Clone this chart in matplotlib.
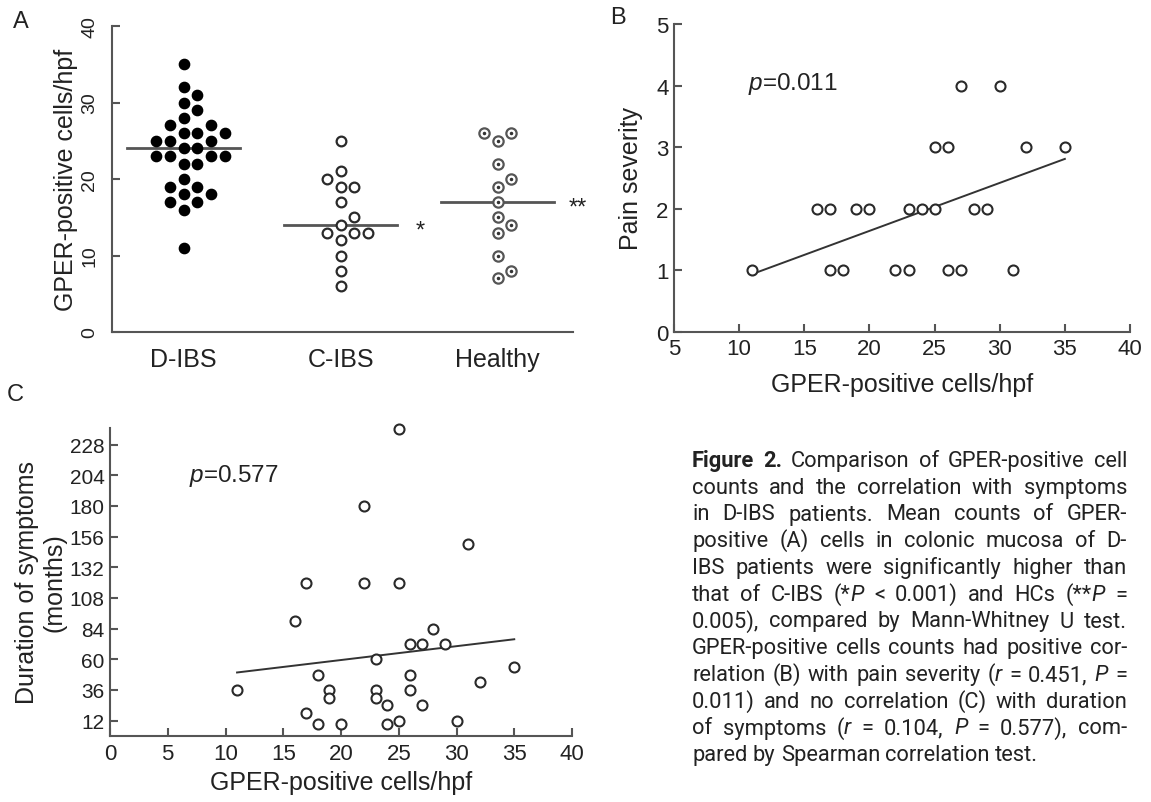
import matplotlib
matplotlib.use("Agg")
import matplotlib.pyplot as plt
import numpy as np

plt.rcParams["font.family"] = ["Liberation Sans", "DejaVu Sans"]
plt.rcParams["mathtext.fontset"] = "custom"
plt.rcParams["mathtext.rm"] = "Liberation Sans"
plt.rcParams["mathtext.it"] = "Liberation Sans:italic"

AXIS = "#555555"
INK = "#222222"
CAP_FONT = ["Roboto", "DejaVu Sans"]

# ---- panel A: GPER-positive cells/hpf per group
groups = ["D-IBS", "C-IBS", "Healthy"]
d_ibs = [35, 32, 31, 30, 29, 28, 27, 27, 26, 26, 26, 25, 25, 25, 24, 24,
         23, 23, 23, 23, 22, 22, 20, 19, 19, 18, 18, 17, 17, 16, 11]
c_ibs = [25, 21, 20, 19, 19, 17, 15, 14, 13, 13, 13, 12, 10, 8, 6]
healthy = [26, 26, 25, 22, 20, 19, 17, 15, 14, 13, 10, 8, 7]
stars = ["", "*", "**"]

# ---- panel B: pain severity vs cells
b_cells = [11, 16, 17, 19, 20, 23, 24, 25, 28, 29,
           17, 18, 22, 23, 26, 27, 31,
           25, 26, 32, 35,
           27, 30]
b_pain = [1, 2, 2, 2, 2, 2, 2, 2, 2, 2,
          1, 1, 1, 1, 1, 1, 1,
          3, 3, 3, 3,
          4, 4]
b_fit_x = [11, 35]
b_fit_y = [0.94, 2.81]

# ---- panel C: duration of symptoms vs cells
c_cells = [25, 22, 31, 17, 22, 25, 16, 28, 26, 27, 29, 23, 35, 18, 26, 32,
           11, 19, 19, 23, 23, 26, 24, 27, 17, 18, 20, 24, 25, 30]
c_months = [240, 180, 150, 120, 120, 120, 90, 84, 72, 72, 72, 60, 54, 48, 48, 42,
            36, 36, 30, 36, 30, 36, 24, 24, 18, 9, 9, 9, 12, 12]
c_fit_x = [11, 35]
c_fit_y = [49.7, 75.7]

caption = [
    "#Figure #2. Comparison of GPER-positive cell",
    "counts and the correlation with symptoms",
    "in D-IBS patients. Mean counts of GPER-",
    "positive (A) cells in colonic mucosa of D-",
    "IBS patients were significantly higher than",
    "that of C-IBS (*|P| < 0.001) and HCs (**|P| =",
    "0.005), compared by Mann-Whitney U test.",
    "GPER-positive cells counts had positive cor-",
    "relation (B) with pain severity (|r| = 0.451, |P| =",
    "0.011) and no correlation (C) with duration",
    "of symptoms (|r| = 0.104, |P| = 0.577), com-",
    "pared by Spearman correlation test.",
]


def style_axes(ax):
    for s in ("top", "right"):
        ax.spines[s].set_visible(False)
    for s in ("left", "bottom"):
        ax.spines[s].set_color(AXIS)
        ax.spines[s].set_linewidth(1.5)
    ax.tick_params(colors=AXIS, labelcolor=INK, width=1.5)


def swarm_offsets(ax, values, center, step, diam_px=10):
    """First free slot 0, +1, -1, +2, ... going up through the sorted values."""
    placed = []
    offs = np.zeros(len(values))
    for i in np.argsort(values, kind="stable"):
        for k in [0, 1, -1, 2, -2, 3, -3, 4, -4]:
            px = ax.transData.transform((center + k * step, values[i]))
            if all(np.hypot(*(px - q)) >= diam_px for q in placed):
                break
        placed.append(px)
        offs[i] = k * step
    return offs


def parse_line(line):
    words = []
    for w in line.split(" "):
        bold = w.startswith("#")
        parts = w.lstrip("#").split("|")
        words.append([(s, {"weight": "bold" if bold else "normal",
                           "style": "italic" if k % 2 else "normal"})
                      for k, s in enumerate(parts) if s])
    return words


def draw_caption(fig, lines, left, right, top, step, base=14):
    rend = fig.canvas.get_renderer()
    W, H = fig.bbox.width, fig.bbox.height

    def width(s, props, size):
        t = fig.text(0, 0, s, fontsize=size, family=CAP_FONT, **props)
        w = t.get_window_extent(rend).width
        t.remove()
        return w

    parsed = [parse_line(l) for l in lines]
    # pick the size at which the tightest line just fits with plain spaces
    sp = width("a a", {}, base) - width("aa", {}, base)
    natural = [sum(width(s, p, base) for wd in words for s, p in wd)
               + sp * (len(words) - 1) for words in parsed[:-1]]
    size = base * (right - left) / max(natural) * 0.985

    space = width("a a", {}, size) - width("aa", {}, size)
    for i, words in enumerate(parsed):
        measured = [[(s, p, width(s, p, size)) for s, p in wd] for wd in words]
        total = sum(ws for wd in measured for _, _, ws in wd)
        last = i == len(parsed) - 1
        gap = space if last else (right - left - total) / (len(words) - 1)
        x = left
        y = 1 - (top + i * step) / H
        for wd in measured:
            for s, p, ws in wd:
                fig.text(x / W, y, s, fontsize=size, family=CAP_FONT,
                         color=INK, va="baseline", **p)
                x += ws
            x += gap


fig = plt.figure(figsize=(11.51, 8.03), dpi=100)
W, H = 1151, 803

def px_axes(x0, y0, x1, y1):
    return fig.add_axes([x0 / W, 1 - y1 / H, (x1 - x0) / W, (y1 - y0) / H])

# ---------------- A
axA = px_axes(112, 27, 573, 333)
style_axes(axA)
axA.set_xlim(-0.456, 2.48)
axA.set_ylim(0, 40)
axA.set_yticks([0, 10, 20, 30, 40])
axA.set_xticks(range(3))
axA.set_xticklabels(groups, fontsize=18)
axA.tick_params(axis="x", length=0, pad=11)
axA.tick_params(axis="y", direction="in", length=6, labelsize=14,
                labelrotation=90, pad=10)
for lab in axA.get_yticklabels():
    lab.set_va("center")
axA.set_ylabel("GPER-positive cells/hpf", fontsize=18, color=INK,
               va="center", ha="center")
axA.yaxis.set_label_coords(-0.1, 0.5)

for i, vals in enumerate([d_ibs, c_ibs, healthy]):
    xs = i + swarm_offsets(axA, vals, i, 0.087)
    if i == 0:
        axA.plot(xs, vals, "o", color="black", ms=7.4, clip_on=False, zorder=3)
    elif i == 1:
        axA.plot(xs, vals, "o", mfc="white", mec="#2a2a2a", ms=7.0, mew=1.6,
                 clip_on=False, zorder=3)
    else:
        axA.plot(xs, vals, "o", mfc="white", mec="#555555", ms=7.4, mew=1.6,
                 clip_on=False, zorder=3)
        axA.plot(xs, vals, ".", color="#333333", ms=3, zorder=4)
    med = np.median(vals)
    axA.plot([i - 0.36, i + 0.36], [med, med], color="#555555", lw=2, zorder=2)
    if stars[i]:
        axA.text(i + 0.51, med - 0.7, stars[i], fontsize=17, color=INK,
                 ha="center", va="center", clip_on=False)

# ---------------- B
axB = px_axes(674, 25, 1130, 333)
style_axes(axB)
axB.set_xlim(5, 40)
axB.set_ylim(0, 5)
axB.set_xticks(range(5, 41, 5))
axB.set_yticks(range(0, 6))
axB.tick_params(direction="in", length=6, labelsize=16, pad=4)
axB.plot(b_cells, b_pain, "o", mfc="white", mec="#2a2a2a", ms=7.2, mew=1.5,
         linestyle="none", zorder=3)
axB.plot(b_fit_x, b_fit_y, color="#333333", lw=1.4, zorder=2)
axB.text(10.7, 4.05, "$p$=0.011", fontsize=17.5, color=INK, va="center")
axB.set_xlabel("GPER-positive cells/hpf", fontsize=18, color=INK, va="center")
axB.xaxis.set_label_coords(0.5, -0.17)
axB.set_ylabel("Pain severity", fontsize=18, color=INK, va="center")
axB.yaxis.set_label_coords(-0.095, 0.5)

# ---------------- C
axC = px_axes(110, 429, 572, 737)
style_axes(axC)
axC.set_xlim(0, 40)
axC.set_ylim(0, 241)
axC.set_xticks(range(0, 41, 5))
axC.set_yticks(range(12, 229, 24))
axC.tick_params(direction="in", length=6, labelsize=16, pad=5)
axC.tick_params(axis="y", labelsize=15, pad=4)
axC.plot(c_cells, c_months, "o", mfc="white", mec="#2a2a2a", ms=7.2, mew=1.5,
         linestyle="none", clip_on=False, zorder=3)
axC.plot(c_fit_x, c_fit_y, color="#333333", lw=1.4, zorder=2)
axC.text(6.8, 204, "$p$=0.577", fontsize=17.5, color=INK, va="center")
axC.set_xlabel("GPER-positive cells/hpf", fontsize=18, color=INK, va="center")
axC.xaxis.set_label_coords(0.5, -0.15)
axC.set_ylabel("Duration of symptoms\n(months)", fontsize=18, color=INK,
               va="center", linespacing=1.2)
axC.yaxis.set_label_coords(-0.15, 0.5)

# panel letters
for letter, (x, y) in zip("ABC", [(21, 22), (618, 18), (15, 395)]):
    fig.text(x / W, 1 - y / H, letter, fontsize=17, color=INK,
             ha="center", va="center")

draw_caption(fig, caption, 692, 1127, 467, 26.75)

fig.savefig("out.png", dpi=100)
